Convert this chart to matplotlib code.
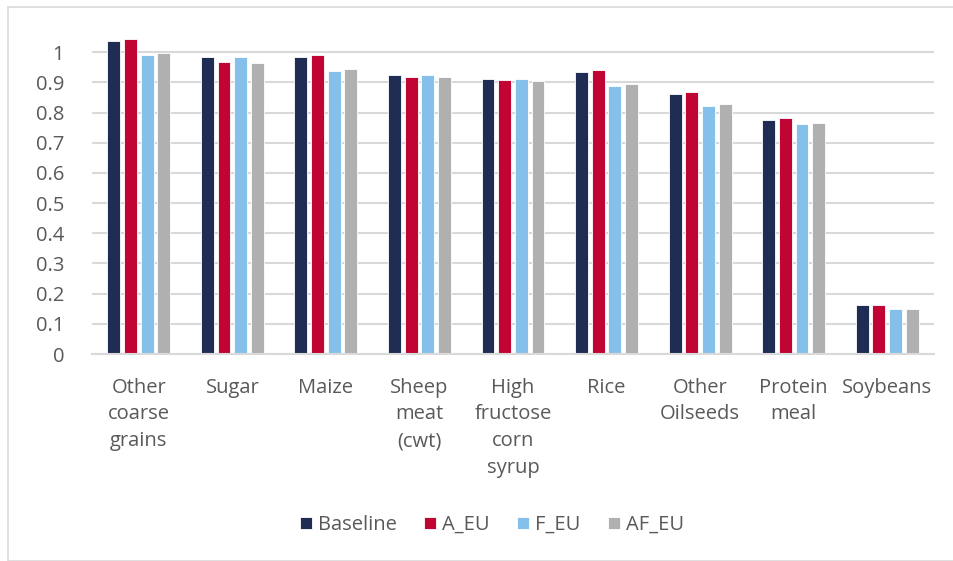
import matplotlib
matplotlib.use("Agg")
import matplotlib.pyplot as plt
import numpy as np
from matplotlib.patches import Rectangle

categories = ["Other\ncoarse\ngrains", "Sugar", "Maize", "Sheep\nmeat\n(cwt)",
              "High\nfructose\ncorn\nsyrup", "Rice", "Other\nOilseeds", "Protein\nmeal", "Soybeans"]
series_names = ["Baseline", "A_EU", "F_EU", "AF_EU"]
baseline = [1.038, 0.983, 0.983, 0.924, 0.910, 0.936, 0.861, 0.775, 0.161]
a_eu     = [1.043, 0.967, 0.992, 0.919, 0.907, 0.940, 0.868, 0.783, 0.161]
f_eu     = [0.992, 0.983, 0.937, 0.924, 0.910, 0.889, 0.821, 0.761, 0.149]
af_eu    = [0.998, 0.966, 0.945, 0.919, 0.906, 0.894, 0.830, 0.767, 0.149]
yticks = [0, 0.1, 0.2, 0.3, 0.4, 0.5, 0.6, 0.7, 0.8, 0.9, 1]
colors = ["#1f2d55", "#c00433", "#85c0ea", "#b0b0b0"]

plt.rcParams['font.family'] = ['Open Sans', 'DejaVu Sans']
W, H = 954, 561
fig = plt.figure(figsize=(W/100, H/100), dpi=100)
fig.patches.append(Rectangle((8/W, 0), (W-8)/W + 0.01, (H-7)/H, transform=fig.transFigure,
                             fill=False, edgecolor="#d9d9d9", linewidth=1.2))

x0, x1 = 92, 934
y0 = 354
pxu = 301.7
ytop_val = 1.08
ax = fig.add_axes([x0/W, (H-y0)/H, (x1-x0)/W, ytop_val*pxu/H])
ax.set_xlim(-0.5, len(categories)-0.5)
ax.set_ylim(0, ytop_val)

x = np.arange(len(categories))
step = 0.178
bw = 0.138
data = [baseline, a_eu, f_eu, af_eu]
for i, (vals, name, c) in enumerate(zip(data, series_names, colors)):
    ax.bar(x + (i-1.5)*step, vals, width=bw, color=c, label=name, zorder=3,
           edgecolor="white", linewidth=0.6)

ax.set_yticks(yticks)
ax.set_yticklabels([f"{t:g}" for t in yticks])
ax.yaxis.grid(True, color="#d9d9d9", linewidth=1.5, zorder=0)
ax.set_axisbelow(True)
for s in ["top", "right", "left"]:
    ax.spines[s].set_visible(False)
ax.spines["bottom"].set_color("#d9d9d9")
ax.spines["bottom"].set_linewidth(1.5)
ax.spines["bottom"].set_zorder(4)
ax.tick_params(axis="both", length=0, colors="#595959", labelsize=14.5)
ax.tick_params(axis="y", pad=20)
ax.tick_params(axis="x", pad=17)
ax.set_xticks(x)
ax.set_xticklabels(categories, linespacing=1.45, va="top")

leg = fig.legend(loc="center", bbox_to_anchor=(492/W, (H-525)/H), ncol=4, frameon=False,
                 fontsize=14.5, handlelength=0.6, handleheight=0.6, handletextpad=0.3,
                 columnspacing=1.35, labelcolor="#595959")

fig.savefig("out.png", dpi=100)
